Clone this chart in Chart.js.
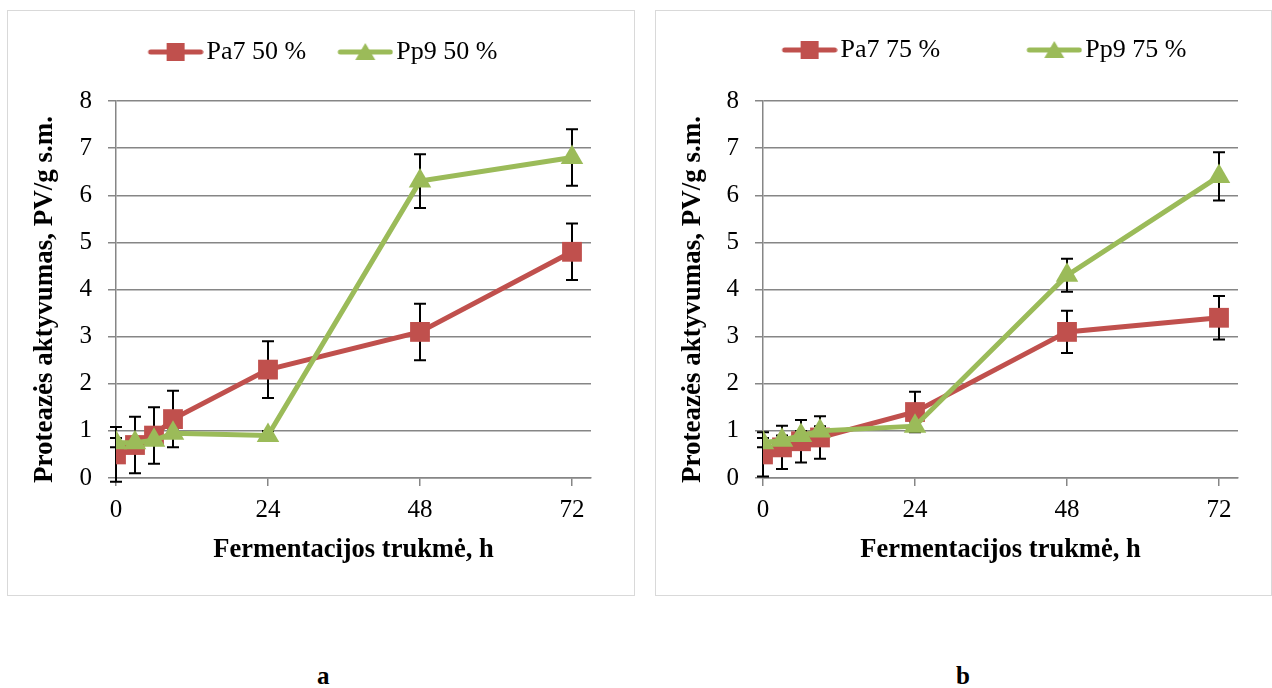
<!DOCTYPE html>
<html>
<head>
<meta charset="utf-8">
<script src="https://cdn.jsdelivr.net/npm/chart.js@4.4.0/dist/chart.umd.min.js"></script>
<style>
  body { margin: 0; background: #fff; width: 1272px; height: 688px; position: relative; overflow: hidden; font-family: 'Liberation Serif', serif; }
  .box { position: absolute; top: 10px; height: 584px; border: 1px solid #d9d9d9; background: #fff; }
  #boxA { left: 7px; width: 626px; }
  #boxB { left: 655px; width: 615px; }
  .lbl { position: absolute; top: 662px; font: bold 25px 'Liberation Serif', serif; }
</style>
</head>
<body>
<div class="box" id="boxA"><canvas id="chartA" width="626" height="584"></canvas></div>
<div class="box" id="boxB"><canvas id="chartB" width="615" height="584"></canvas></div>
<div class="lbl" style="left:317px">a</div>
<div class="lbl" style="left:956px">b</div>
<script>
// --- duomenys ---
const hours = [0, 3, 6, 9, 24, 48, 72];
const xTicks = [0, 24, 48, 72];

const pa7_50 = [0.5, 0.7, 0.9, 1.25, 2.3, 3.1, 4.8];
const pa7_50_err = [0.58, 0.6, 0.6, 0.6, 0.6, 0.6, 0.6];
const pp9_50 = [0.75, 0.75, 0.8, 0.95, 0.9, 6.3, 6.8];
const pp9_50_err = [0.1, 0.1, 0.1, 0.1, 0.1, 0.57, 0.6];

const pa7_75 = [0.5, 0.65, 0.78, 0.86, 1.4, 3.1, 3.4];
const pa7_75_err = [0.47, 0.46, 0.45, 0.45, 0.43, 0.45, 0.46];
const pp9_75 = [0.75, 0.8, 0.9, 1.0, 1.1, 4.3, 6.4];
const pp9_75_err = [0.1, 0.1, 0.1, 0.1, 0.1, 0.35, 0.51];

const RED = '#C0504D';
const GREEN = '#9BBB59';
const GRID = '#868686';
const FONT = "'Liberation Serif', 'Times New Roman', serif";

// legendos ikonėlė: linija su žymekliu, kairėje tuščia vieta
function legendIcon(color, shape) {
    const c = document.createElement('canvas');
    c.width = 76; c.height = 24;
    const g = c.getContext('2d');
    g.strokeStyle = color; g.lineWidth = 5; g.lineCap = 'round';
    g.beginPath(); g.moveTo(23, 12); g.lineTo(73, 12); g.stroke();
    g.fillStyle = color;
    if (shape === 'rect') {
        g.fillRect(39, 3, 18, 18);
    } else {
        g.beginPath(); g.moveTo(48, 3); g.lineTo(58, 20); g.lineTo(38, 20); g.closePath(); g.fill();
    }
    return c;
}

function toPoints(ys) {
    return hours.map((h, i) => ({ x: h, y: ys[i] }));
}

// klaidų stulpeliai
const errorBars = {
    id: 'errorBars',
    beforeDatasetsDraw(chart) {
        const ctx = chart.ctx;
        const xs = chart.scales.x, ys = chart.scales.y;
        ctx.save();
        ctx.strokeStyle = '#000';
        ctx.lineWidth = 2;
        chart.data.datasets.forEach(ds => {
            ds.data.forEach((p, i) => {
                const e = ds.errors[i];
                const px = xs.getPixelForValue(p.x);
                const top = ys.getPixelForValue(p.y + e);
                const bot = ys.getPixelForValue(p.y - e);
                ctx.beginPath();
                ctx.moveTo(px, top); ctx.lineTo(px, bot);
                ctx.moveTo(px - 6, top); ctx.lineTo(px + 6, top);
                ctx.moveTo(px - 6, bot); ctx.lineTo(px + 6, bot);
                ctx.stroke();
            });
        });
        ctx.restore();
    }
};

// fiksuotas legendos aukštis ir poslinkis, y ašies pavadinimas šiek tiek žemiau
const layoutTweaks = {
    id: 'layoutTweaks',
    afterInit(chart) {
        const fit = chart.legend.fit;
        chart.legend.fit = function () {
            fit.call(this);
            this.height = 83;
        };
    },
    afterLayout(chart, args, opts) {
        const lg = chart.legend;
        lg.left += opts.dx; lg.right += opts.dx;
        lg.top += opts.dy;
        const y = chart.scales.y;
        if (y._titleShifted) return;
        const draw = y.drawTitle;
        y.drawTitle = function () {
            this.ctx.save();
            this.ctx.translate(0, 10);
            draw.call(this);
            this.ctx.restore();
        };
        y._titleShifted = true;
    }
};

function makeChart(canvasId, label1, d1, e1, label2, d2, e2, yAxisWidth, rightPad, legendGap, dx, dy) {
    const ctx = document.getElementById(canvasId).getContext('2d');
    return new Chart(ctx, {
        type: 'line',
        data: {
            datasets: [
                {
                    label: label1, data: toPoints(d1), errors: e1, order: 1,
                    borderColor: RED, backgroundColor: RED, borderWidth: 5,
                    pointStyle: 'rect', pointRadius: 14, pointHoverRadius: 14,
                    pointBorderWidth: 0, tension: 0
                },
                {
                    label: label2, data: toPoints(d2), errors: e2, order: 0,
                    borderColor: GREEN, backgroundColor: GREEN, borderWidth: 5,
                    pointStyle: 'triangle', pointRadius: 13, pointHoverRadius: 13,
                    pointBorderWidth: 0, tension: 0
                }
            ]
        },
        options: {
            responsive: false,
            animation: false,
            layout: { padding: { top: 7, left: 0, right: rightPad, bottom: 0 } },
            plugins: {
                tooltip: { enabled: false },
                layoutTweaks: { dx: dx, dy: dy },
                legend: {
                    position: 'top',
                    labels: {
                        usePointStyle: true,
                        pointStyleWidth: 56,
                        padding: legendGap,
                        color: '#000',
                        font: { family: FONT, size: 26 },
                        generateLabels(chart) {
                            return chart.data.datasets.map((ds, i) => ({
                                text: ds.label,
                                pointStyle: legendIcon(ds.borderColor, i === 0 ? 'rect' : 'triangle'),
                                fillStyle: ds.borderColor,
                                strokeStyle: ds.borderColor,
                                lineWidth: 0,
                                fontColor: '#000',
                                datasetIndex: i
                            }));
                        }
                    }
                }
            },
            scales: {
                x: {
                    type: 'linear', min: 0, max: 75,
                    afterBuildTicks(scale) { scale.ticks = xTicks.map(v => ({ value: v })); },
                    afterFit(scale) { scale.height = 117; },
                    grid: { drawOnChartArea: false, drawTicks: true, tickLength: 8, color: GRID, lineWidth: 1.5 },
                    border: { color: GRID, width: 1.5 },
                    ticks: { color: '#000', padding: 9, maxRotation: 0, font: { family: FONT, size: 25 } },
                    title: {
                        display: true, text: 'Fermentacijos trukmė, h', color: '#000',
                        font: { family: FONT, size: 26.5, weight: 'bold' },
                        padding: { top: 29, bottom: 29 }
                    }
                },
                y: {
                    min: 0, max: 8,
                    afterFit(scale) { scale.width = yAxisWidth; },
                    ticks: { stepSize: 1, color: '#000', padding: 16, font: { family: FONT, size: 25 } },
                    grid: { color: GRID, lineWidth: 1.5, tickLength: 8 },
                    border: { color: GRID, width: 1.5 },
                    title: {
                        display: true, text: 'Proteazės aktyvumas, PV/g s.m.', color: '#000',
                        font: { family: FONT, size: 27, weight: 'bold' },
                        padding: { top: 21, bottom: 21 }
                    }
                }
            }
        },
        plugins: [errorBars, layoutTweaks]
    });
}

makeChart('chartA', 'Pa7 50 %', pa7_50, pa7_50_err, 'Pp9 50 %', pp9_50, pp9_50_err, 108, 43, 21, 18, 0);
makeChart('chartB', 'Pa7 75 %', pa7_75, pa7_75_err, 'Pp9 75 %', pp9_75, pp9_75_err, 107, 33, 76, 32, -57);
</script>
</body>
</html>
